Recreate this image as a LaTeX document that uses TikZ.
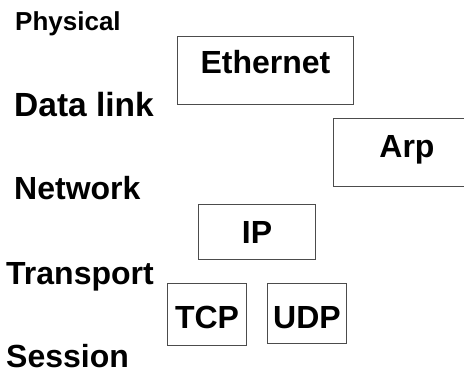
\documentclass[tikz,border=0pt]{standalone}
\usepackage{fontspec}
\setmainfont{Liberation Sans}
\begin{document}
\begin{tikzpicture}[x=1pt,y=-1pt,
  layer/.style={anchor=base west,inner sep=0pt,font=\bfseries\fontsize{32}{36}\selectfont},
  proto/.style={draw=black!70,line width=1pt,inner sep=0pt,align=center,font=\bfseries\fontsize{32}{36}\selectfont}]
\useasboundingbox (0,0) rectangle (464,374);
\node[layer,font=\bfseries\fontsize{26}{30}\selectfont] (phys) at (15,31) {Physical};
\node[layer,font=\bfseries\fontsize{33.5}{36}\selectfont] (dl) at (14,117) {Data link};
\node[layer] (net) at (14,200) {Network};
\node[layer] (tr) at (6,285) {Transport};
\node[layer] (ses) at (6,368) {Session};
\node[proto,minimum width=176pt,text height=37pt,text depth=31pt,anchor=north west] (eth) at (177,36) {Ethernet};
\node[proto,minimum width=147pt,text height=39pt,text depth=29pt,anchor=north west] (arp) at (333,118) {Arp};
\node[proto,minimum width=117pt,text height=39pt,text depth=16pt,anchor=north west] (ip) at (198,204) {IP};
\node[proto,minimum width=79pt,text height=45pt,text depth=17pt,anchor=north west] (tcp) at (167,283) {TCP};
\node[proto,minimum width=79pt,text height=45pt,text depth=15pt,anchor=north west] (udp) at (267,283) {UDP};
\end{tikzpicture}
\end{document}
